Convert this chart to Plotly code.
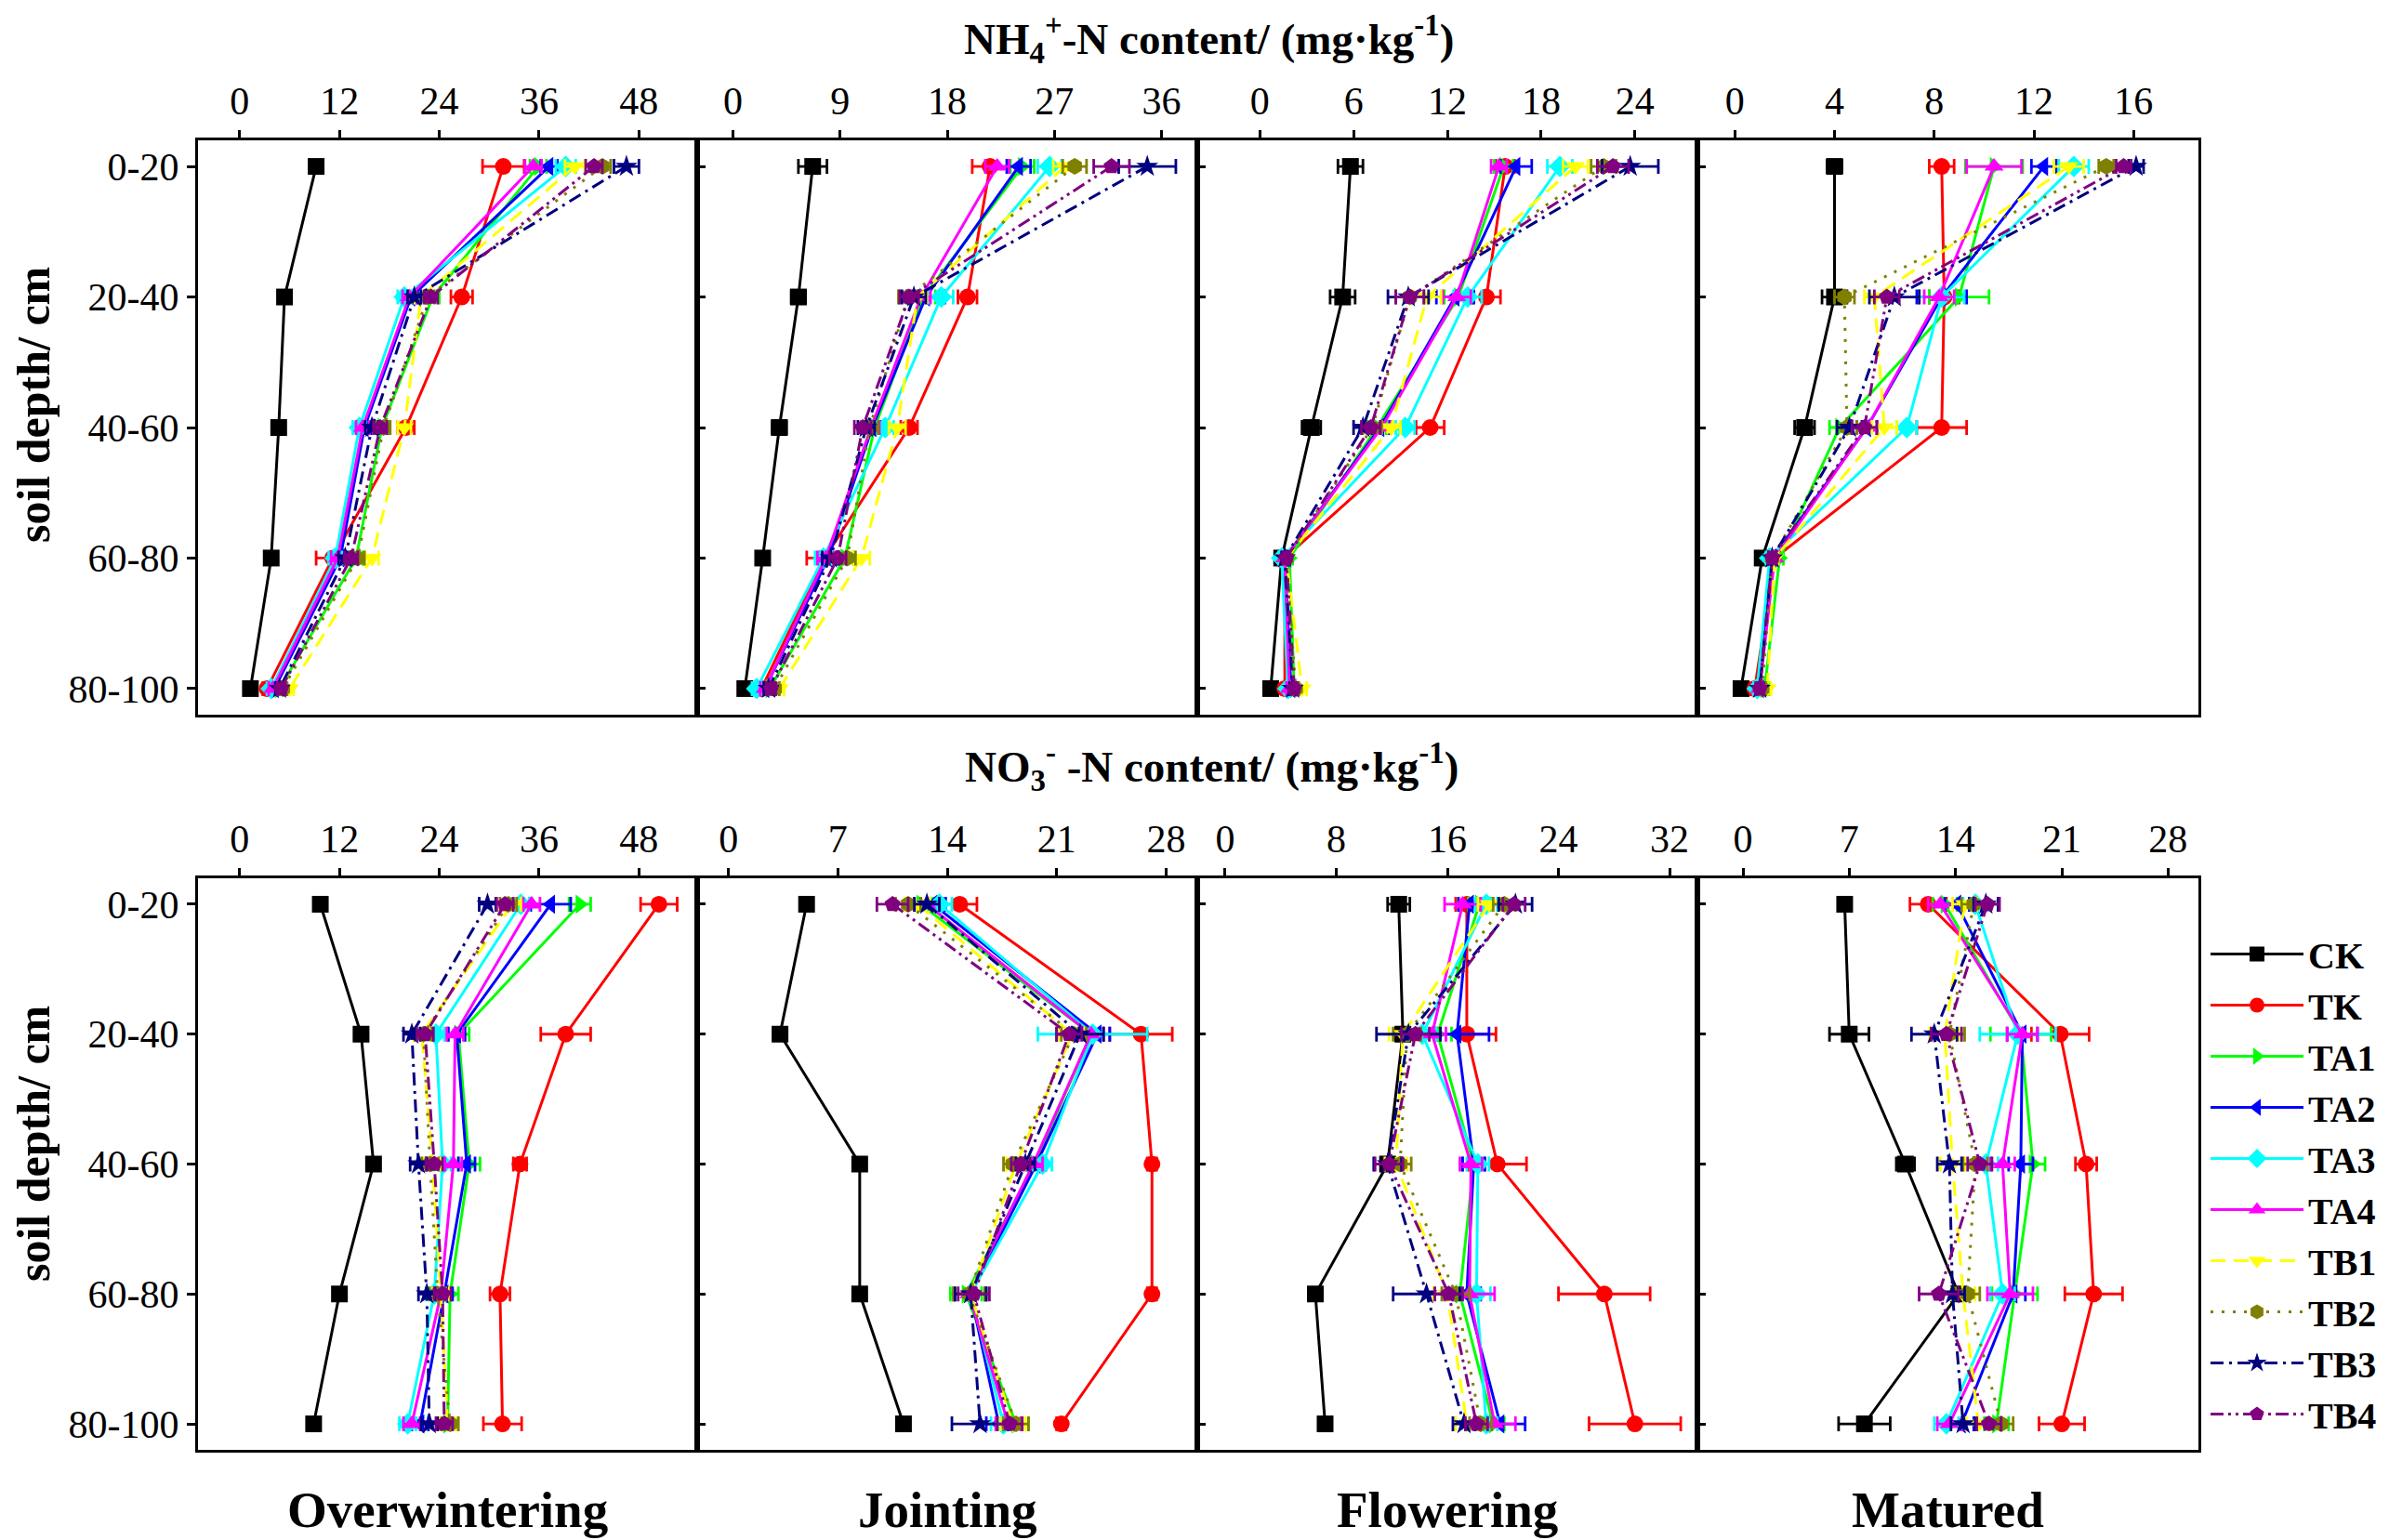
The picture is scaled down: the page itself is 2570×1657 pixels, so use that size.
import plotly.graph_objects as go

depths = ["0-20", "20-40", "40-60", "60-80", "80-100"]
series_names = ["CK", "TK", "TA1", "TA2", "TA3", "TA4", "TB1", "TB2", "TB3", "TB4"]
stages = ["Overwintering", "Jointing", "Flowering", "Matured"]

# ---- NH4+-N content (mg/kg) ----
nh4_overwintering = {
    "CK": [9.2, 5.4, 4.7, 3.8, 1.3], "TK": [31.7, 26.7, 20.0, 11.2, 3.3],
    "TA1": [35.9, 23.2, 17.1, 14.0, 4.8], "TA2": [37.2, 20.6, 15.0, 12.1, 4.2],
    "TA3": [39.2, 19.8, 14.4, 11.5, 3.8], "TA4": [35.3, 20.4, 14.8, 11.8, 4.0],
    "TB1": [40.3, 21.8, 19.8, 15.9, 6.0], "TB2": [43.6, 22.6, 17.3, 14.2, 5.2],
    "TB3": [46.5, 21.0, 15.9, 12.7, 4.8], "TB4": [42.6, 23.0, 16.9, 13.4, 5.0]}
nh4_overwintering_err = {
    "CK": [0.6, 0.6, 0.5, 0.5, 0.4], "TK": [2.5, 1.3, 1.0, 2.0, 0.5],
    "TA1": [1.0, 0.8, 0.8, 0.8, 0.5], "TA2": [1.0, 0.8, 0.8, 0.8, 0.5],
    "TA3": [1.2, 0.8, 0.8, 0.8, 0.5], "TA4": [1.0, 0.8, 0.8, 0.8, 0.5],
    "TB1": [1.2, 0.8, 0.8, 0.8, 0.5], "TB2": [1.0, 0.8, 0.8, 0.8, 0.5],
    "TB3": [1.5, 0.8, 0.8, 0.8, 0.5], "TB4": [1.0, 0.8, 0.8, 0.8, 0.5]}

nh4_jointing = {
    "CK": [6.7, 5.5, 3.9, 2.5, 1.0], "TK": [21.6, 19.7, 14.8, 7.7, 2.4],
    "TA1": [24.3, 16.0, 11.9, 9.4, 3.1], "TA2": [24.0, 16.2, 11.7, 8.0, 2.7],
    "TA3": [26.6, 17.5, 12.8, 7.6, 2.0], "TA4": [22.2, 15.8, 11.6, 7.8, 2.7],
    "TB1": [27.9, 15.5, 13.8, 10.8, 3.9], "TB2": [28.7, 14.7, 11.5, 9.6, 3.5],
    "TB3": [34.8, 15.2, 11.2, 8.2, 3.0], "TB4": [31.8, 14.8, 10.9, 8.8, 3.2]}
nh4_jointing_err = {
    "CK": [1.2, 0.6, 0.6, 0.5, 0.4], "TK": [1.5, 0.8, 0.7, 1.5, 0.4],
    "TA1": [1.0, 1.0, 0.7, 0.7, 0.4], "TA2": [1.0, 1.6, 0.7, 0.7, 0.4],
    "TA3": [1.0, 1.0, 0.7, 0.7, 0.4], "TA4": [1.0, 0.8, 0.7, 0.7, 0.4],
    "TB1": [1.0, 0.8, 0.7, 0.7, 0.4], "TB2": [1.0, 0.8, 0.7, 0.7, 0.4],
    "TB3": [2.4, 1.0, 0.7, 0.7, 0.4], "TB4": [1.5, 0.8, 0.7, 0.7, 0.4]}

nh4_flowering = {
    "CK": [5.8, 5.3, 3.3, 1.4, 0.7], "TK": [15.7, 14.5, 10.9, 1.6, 1.6],
    "TA1": [15.6, 12.7, 7.5, 1.9, 2.2], "TA2": [16.4, 12.5, 7.7, 1.6, 2.0],
    "TA3": [19.2, 13.3, 9.3, 1.4, 1.8], "TA4": [15.3, 12.6, 7.8, 1.6, 1.9],
    "TB1": [20.2, 10.7, 8.4, 1.7, 2.7], "TB2": [22.0, 9.6, 7.2, 1.7, 2.3],
    "TB3": [23.7, 9.5, 6.6, 1.6, 2.1], "TB4": [22.6, 9.6, 7.1, 1.7, 2.2]}
nh4_flowering_err = {
    "CK": [0.8, 0.8, 0.6, 0.2, 0.2], "TK": [0.6, 0.9, 0.9, 0.2, 0.2],
    "TA1": [0.6, 0.9, 0.6, 0.2, 0.2], "TA2": [1.0, 1.2, 0.6, 0.2, 0.2],
    "TA3": [0.8, 0.9, 0.6, 0.2, 0.2], "TA4": [0.5, 0.9, 0.6, 0.2, 0.2],
    "TB1": [0.8, 0.9, 0.6, 0.2, 0.3], "TB2": [0.8, 0.9, 0.6, 0.2, 0.2],
    "TB3": [1.8, 1.3, 0.6, 0.2, 0.2], "TB4": [1.0, 0.9, 0.6, 0.2, 0.2]}

nh4_matured = {
    "CK": [4.0, 4.0, 2.8, 1.1, 0.25], "TK": [8.3, 8.4, 8.3, 1.6, 0.8],
    "TA1": [10.4, 9.0, 4.2, 1.8, 1.2], "TA2": [12.4, 8.3, 5.3, 1.5, 1.0],
    "TA3": [13.6, 8.3, 6.9, 1.4, 0.9], "TA4": [10.4, 8.2, 5.3, 1.6, 1.0],
    "TB1": [13.4, 5.6, 6.0, 1.6, 1.3], "TB2": [14.9, 4.4, 4.5, 1.5, 1.1],
    "TB3": [16.1, 6.4, 4.6, 1.5, 1.0], "TB4": [15.6, 6.1, 5.2, 1.5, 1.0]}
nh4_matured_err = {
    "CK": [0.3, 0.5, 0.4, 0.15, 0.15], "TK": [0.5, 0.6, 1.0, 0.15, 0.15],
    "TA1": [1.15, 1.2, 0.4, 0.15, 0.15], "TA2": [0.5, 1.0, 0.4, 0.15, 0.15],
    "TA3": [0.6, 0.9, 0.4, 0.15, 0.15], "TA4": [1.1, 0.6, 0.4, 0.15, 0.15],
    "TB1": [0.6, 0.4, 0.5, 0.15, 0.15], "TB2": [0.3, 0.4, 0.4, 0.15, 0.15],
    "TB3": [0.3, 1.0, 0.5, 0.15, 0.15], "TB4": [0.3, 0.5, 0.5, 0.15, 0.15]}

# ---- NO3--N content (mg/kg) ----
no3_overwintering = {
    "CK": [9.7, 14.6, 16.1, 12.0, 8.9], "TK": [50.4, 39.2, 33.7, 31.3, 31.6],
    "TA1": [40.9, 26.3, 27.6, 25.3, 25.0], "TA2": [37.4, 26.1, 27.3, 24.6, 21.7],
    "TA3": [33.8, 23.6, 24.4, 23.4, 20.2], "TA4": [35.1, 25.9, 25.7, 24.2, 20.7],
    "TB1": [32.8, 21.9, 23.2, 24.2, 25.0], "TB2": [32.3, 22.1, 22.9, 23.8, 25.3],
    "TB3": [29.8, 20.7, 21.5, 22.5, 22.8], "TB4": [31.9, 22.3, 23.4, 24.4, 24.6]}
no3_overwintering_err = {
    "CK": [0.6, 0.8, 0.6, 0.6, 0.6], "TK": [2.2, 3.0, 0.8, 1.2, 2.3],
    "TA1": [1.3, 1.3, 1.3, 1.0, 1.0], "TA2": [2.4, 1.0, 1.0, 1.0, 1.0],
    "TA3": [1.0, 1.0, 1.0, 1.0, 1.0], "TA4": [1.0, 1.0, 1.0, 1.0, 1.0],
    "TB1": [1.0, 1.0, 1.0, 1.0, 1.0], "TB2": [1.0, 1.0, 1.0, 1.0, 1.0],
    "TB3": [1.0, 1.0, 1.0, 1.0, 1.0], "TB4": [1.0, 1.0, 1.0, 1.0, 1.0]}

no3_jointing = {
    "CK": [5.0, 3.3, 8.4, 8.4, 11.2], "TK": [14.8, 26.4, 27.1, 27.1, 21.3],
    "TA1": [12.3, 23.2, 19.6, 15.2, 18.4], "TA2": [13.1, 23.6, 19.7, 15.5, 17.3],
    "TA3": [13.5, 23.3, 20.1, 15.5, 17.6], "TA4": [12.7, 23.2, 19.5, 15.4, 17.9],
    "TB1": [12.1, 22.0, 18.4, 15.5, 18.2], "TB2": [11.5, 22.1, 18.2, 15.4, 18.4],
    "TB3": [12.7, 22.5, 19.0, 15.5, 16.1], "TB4": [10.5, 21.8, 18.7, 15.7, 18.0]}
no3_jointing_err = {
    "CK": [0.3, 0.3, 0.3, 0.3, 0.3], "TK": [1.1, 2.0, 0.3, 0.3, 0.3],
    "TA1": [0.8, 0.8, 0.6, 1.0, 0.8], "TA2": [0.8, 0.8, 0.6, 1.0, 0.8],
    "TA3": [0.8, 3.5, 0.6, 1.0, 0.8], "TA4": [0.8, 0.8, 0.6, 1.0, 0.8],
    "TB1": [0.8, 0.8, 0.6, 1.0, 0.8], "TB2": [0.8, 0.8, 0.6, 1.0, 0.8],
    "TB3": [0.8, 1.5, 0.6, 1.0, 1.8], "TB4": [1.0, 0.8, 0.6, 1.0, 0.8]}

no3_flowering = {
    "CK": [12.5, 12.8, 11.7, 6.5, 7.2], "TK": [17.4, 17.4, 19.6, 27.3, 29.5],
    "TA1": [18.3, 15.3, 17.9, 16.9, 19.3], "TA2": [17.6, 16.7, 17.9, 17.4, 19.8],
    "TA3": [18.8, 14.2, 18.2, 18.1, 18.8], "TA4": [17.1, 14.9, 17.7, 17.6, 19.4],
    "TB1": [19.0, 12.8, 12.3, 16.0, 17.4], "TB2": [20.1, 13.1, 12.6, 16.6, 18.4],
    "TB3": [20.9, 13.2, 11.7, 14.5, 17.2], "TB4": [20.8, 13.7, 11.8, 16.1, 18.1]}
no3_flowering_err = {
    "CK": [0.8, 0.5, 0.5, 0.3, 0.3], "TK": [0.8, 2.1, 2.1, 3.3, 3.3],
    "TA1": [0.8, 1.0, 0.8, 1.0, 0.8], "TA2": [0.8, 2.3, 0.8, 1.0, 1.8],
    "TA3": [0.8, 1.0, 0.8, 1.0, 0.8], "TA4": [1.3, 1.0, 0.8, 1.8, 1.5],
    "TB1": [0.8, 1.0, 0.8, 1.0, 0.8], "TB2": [0.8, 1.0, 0.8, 1.0, 0.8],
    "TB3": [1.2, 2.3, 1.0, 2.4, 0.8], "TB4": [0.8, 1.0, 1.0, 1.0, 0.8]}

no3_matured = {
    "CK": [6.7, 7.0, 10.7, 14.2, 8.0], "TK": [12.2, 20.9, 22.6, 23.1, 21.0],
    "TA1": [13.3, 18.3, 19.1, 17.9, 16.7], "TA2": [14.1, 18.4, 18.3, 17.8, 14.4],
    "TA3": [15.3, 18.1, 16.0, 17.1, 13.4], "TA4": [13.0, 18.4, 17.1, 17.6, 13.6],
    "TB1": [14.6, 13.3, 13.8, 14.5, 15.5], "TB2": [15.2, 13.6, 15.3, 14.8, 17.0],
    "TB3": [16.0, 12.6, 13.6, 13.8, 14.5], "TB4": [16.1, 13.4, 15.6, 12.9, 16.2]}
no3_matured_err = {
    "CK": [0.3, 1.3, 0.6, 0.3, 1.7], "TK": [1.2, 1.9, 0.7, 1.9, 1.5],
    "TA1": [0.8, 2.0, 0.8, 1.5, 0.8], "TA2": [0.8, 1.0, 0.8, 0.8, 0.8],
    "TA3": [0.8, 2.5, 0.8, 0.8, 0.8], "TA4": [0.8, 1.0, 0.8, 1.5, 0.8],
    "TB1": [0.8, 1.0, 0.8, 0.8, 0.8], "TB2": [0.8, 1.0, 0.8, 0.8, 0.8],
    "TB3": [0.8, 1.5, 0.8, 0.8, 0.8], "TB4": [0.8, 1.0, 0.8, 1.3, 0.8]}

# axis tick values per panel
nh4_ticks = [[0, 12, 24, 36, 48], [0, 9, 18, 27, 36], [0, 6, 12, 18, 24], [0, 4, 8, 12, 16]]
no3_ticks = [[0, 12, 24, 36, 48], [0, 7, 14, 21, 28], [0, 8, 16, 24, 32], [0, 7, 14, 21, 28]]

# ---- styles ----
colors = {"CK": "#000000", "TK": "#FF0000", "TA1": "#00FF00", "TA2": "#0000FF", "TA3": "#00FFFF",
          "TA4": "#FF00FF", "TB1": "#FFFF00", "TB2": "#808000", "TB3": "#000080", "TB4": "#800080"}
symbols = {"CK": "square", "TK": "circle", "TA1": "triangle-right", "TA2": "triangle-left",
           "TA3": "diamond", "TA4": "triangle-up", "TB1": "triangle-down", "TB2": "hexagon",
           "TB3": "star", "TB4": "pentagon"}
dashes = {"CK": "solid", "TK": "solid", "TA1": "solid", "TA2": "solid", "TA3": "solid",
          "TA4": "solid", "TB1": "16px,9px", "TB2": "3px,9px", "TB3": "14px,6px,3px,6px",
          "TB4": "14px,5px,3px,5px,3px,5px"}

W, H = 2570, 1657
FONT = "Liberation Serif"
panel_x = [(205, 742), (742, 1280), (1280, 1818), (1818, 2357)]
row_y = [(143, 761), (937, 1552)]
nh4_ranges = [[-5, 55], [-3, 39], [-4, 28], [-1.5, 18.6]]
no3_ranges = [[-5, 55], [-2, 30], [-2, 34], [-3, 30]]

rows = [
    ([nh4_overwintering, nh4_jointing, nh4_flowering, nh4_matured],
     [nh4_overwintering_err, nh4_jointing_err, nh4_flowering_err, nh4_matured_err],
     nh4_ranges, nh4_ticks),
    ([no3_overwintering, no3_jointing, no3_flowering, no3_matured],
     [no3_overwintering_err, no3_jointing_err, no3_flowering_err, no3_matured_err],
     no3_ranges, no3_ticks),
]

fig = go.Figure()
layout = {}
idx = 0
for r, (datasets, errsets, ranges, ticks) in enumerate(rows):
    for c in range(4):
        idx += 1
        xa = "x" if idx == 1 else f"x{idx}"
        ya = "y" if idx == 1 else f"y{idx}"
        for name in series_names:
            fig.add_trace(go.Scatter(
                x=datasets[c][name], y=depths, xaxis=xa, yaxis=ya,
                mode="lines+markers", name=name, legendgroup=name,
                showlegend=(idx == 1),
                line=dict(color=colors[name], width=3, dash=dashes[name]),
                marker=dict(symbol=symbols[name], size=18, color=colors[name],
                            line=dict(width=0)),
                error_x=dict(type="data", array=errsets[c][name], color=colors[name],
                             thickness=2.8, width=8),
                cliponaxis=False,
            ))
        x0, x1 = panel_x[c]
        y0, y1 = row_y[r]
        layout[f"xaxis{idx}"] = dict(
            domain=[x0 / W, x1 / W], range=ranges[c], side="top", anchor=ya,
            tickvals=ticks[c], ticks="outside", ticklen=8, tickwidth=2.5, tickcolor="black",
            ticklabelstandoff=0,
            showline=True, linewidth=3, linecolor="black", mirror=True,
            showgrid=False, zeroline=False,
            tickfont=dict(family=FONT, size=42, color="black"))
        layout[f"yaxis{idx}"] = dict(
            domain=[1 - y1 / H, 1 - y0 / H], anchor=xa, type="category",
            categoryarray=depths, range=[4.2, -0.2],
            ticks="outside" if c == 0 else "inside", ticklen=9, tickwidth=2.5, tickcolor="black",
            showticklabels=(c == 0),
            showline=True, linewidth=3, linecolor="black", mirror=True,
            showgrid=False, zeroline=False,
            tickfont=dict(family=FONT, size=42, color="black"))

annotations = []
bold = dict(family=FONT, size=47, color="black", weight="bold")
annotations.append(dict(text="NH<sub>4</sub><sup>+</sup>-N content/ (mg·kg<sup>-1</sup>)",
                        x=1292 / W, y=1 - 34 / H, xref="paper", yref="paper",
                        showarrow=False, xanchor="center", yanchor="middle", font=bold))
annotations.append(dict(text="NO<sub>3</sub><sup>-</sup> -N content/ (mg·kg<sup>-1</sup>)",
                        x=1295 / W, y=1 - 817 / H, xref="paper", yref="paper",
                        showarrow=False, xanchor="center", yanchor="middle", font=bold))
ybold = dict(family=FONT, size=50, color="black", weight="bold")
for yc in (428, 1223):
    annotations.append(dict(text="soil depth/ cm", x=28 / W, y=1 - yc / H, xref="paper",
                            yref="paper", showarrow=False, textangle=-90,
                            xanchor="center", yanchor="middle", font=ybold))
for c, st in enumerate(stages):
    x0, x1 = panel_x[c]
    annotations.append(dict(text=st, x=(x0 + x1) / 2 / W, y=1 - 1616 / H, xref="paper",
                            yref="paper", showarrow=False, xanchor="center", yanchor="middle",
                            font=dict(family=FONT, size=55, color="black", weight="bold")))

fig.update_layout(
    width=W, height=H, margin=dict(l=0, r=0, t=0, b=0),
    paper_bgcolor="white", plot_bgcolor="white",
    showlegend=True,
    legend=dict(x=2365 / W, y=1 - 986 / H, xanchor="left", yanchor="top",
                font=dict(family=FONT, size=40, color="black", weight="bold"),
                bgcolor="rgba(0,0,0,0)", tracegroupgap=0, itemwidth=100,
                itemsizing="trace"),
    annotations=annotations,
    **layout,
)

fig.write_html("out.html")
